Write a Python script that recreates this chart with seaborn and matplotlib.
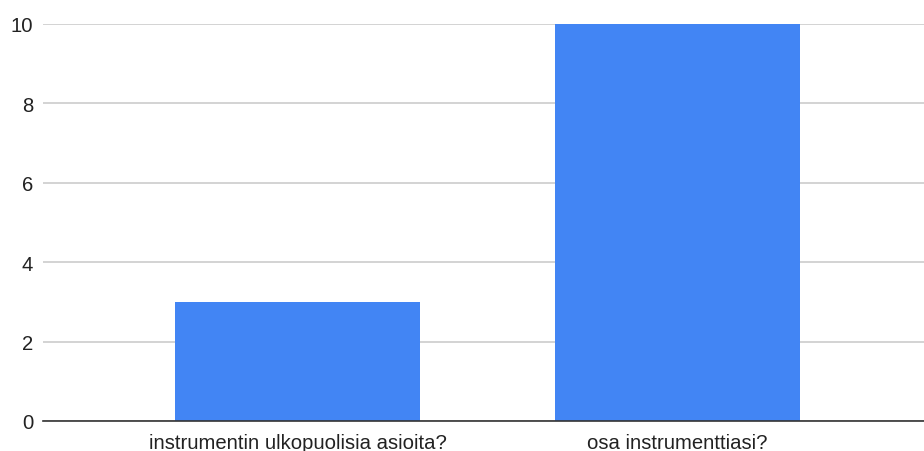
import matplotlib
matplotlib.use("Agg")
import matplotlib.pyplot as plt
import seaborn as sns
import pandas as pd

categories = ["instrumentin ulkopuolisia asioita?", "osa instrumenttiasi?"]
counts = [3, 10]
y_ticks = [0, 2, 4, 6, 8, 10]

sns.set_theme(style="white")
plt.rcParams["font.family"] = ["Liberation Sans", "DejaVu Sans"]

df = pd.DataFrame({"category": categories, "count": counts})

fig = plt.figure(figsize=(9.24, 4.52), dpi=100)
ax = fig.add_axes([43 / 924, 30 / 452, 1 - 43 / 924, 397 / 452])

sns.barplot(data=df, x="category", y="count", color="#4285F4",
            width=0.645, saturation=1, ax=ax, zorder=3,
            edgecolor="none", linewidth=0)

ax.set_xlim(-0.67, 1.649)
ax.set_ylim(0, 10)
ax.set_yticks(y_ticks)
ax.yaxis.grid(True, color="#cccccc", linewidth=1.2, zorder=0)
ax.set_axisbelow(True)

for side in ["top", "right", "left"]:
    ax.spines[side].set_visible(False)
ax.spines["bottom"].set_color("#333333")
ax.spines["bottom"].set_linewidth(1.2)
ax.spines["bottom"].set_zorder(4)

ax.tick_params(axis="both", length=0, labelsize=14.6, colors="#222222")
ax.tick_params(axis="y", pad=7)
ax.tick_params(axis="x", pad=9)
ax.set_xlabel("")
ax.set_ylabel("")

fig.savefig("out.png", dpi=100)
